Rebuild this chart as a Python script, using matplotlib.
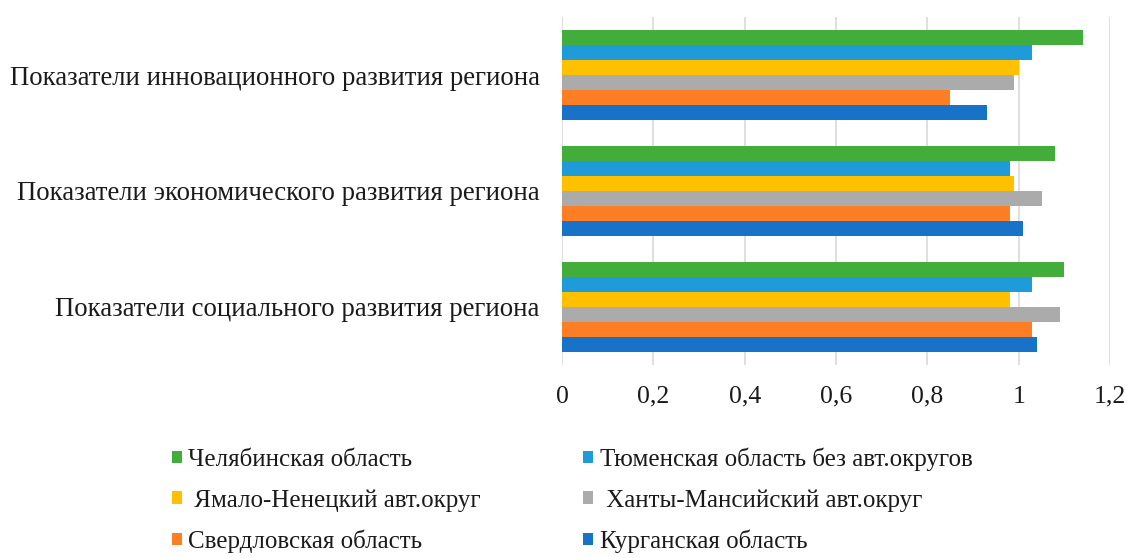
import numpy as np
import matplotlib
matplotlib.use("Agg")
import matplotlib.pyplot as plt
from matplotlib.patches import Patch

# =========================
# DATOS
# =========================
categorias = [
    "Показатели социального развития региона",
    "Показатели экономического развития региона",
    "Показатели инновационного развития региона",
]

# series, de abajo hacia arriba dentro de cada grupo
series = [
    "Курганская область",
    "Свердловская область",
    " Ханты-Мансийский авт.округ",
    " Ямало-Ненецкий авт.округ",
    "Тюменская область без авт.округов",
    "Челябинская область",
]

kurgan = [1.04, 1.01, 0.93]
sverdl = [1.03, 0.98, 0.85]
hmao = [1.09, 1.05, 0.99]
yanao = [0.98, 0.99, 1.00]
tyumen = [1.03, 0.98, 1.03]
chelyab = [1.10, 1.08, 1.14]

valores = [kurgan, sverdl, hmao, yanao, tyumen, chelyab]
colores = ["#1872C8", "#FE7E25", "#ABABAB", "#FFC000", "#1E9BD8", "#43AD3B"]

xticks = [0, 0.2, 0.4, 0.6, 0.8, 1.0, 1.2]
xtick_labels = ["0", "0,2", "0,4", "0,6", "0,8", "1", "1,2"]

# =========================
# GRAFICA
# =========================
plt.rcParams["font.family"] = ["Liberation Serif", "DejaVu Serif"]

fig = plt.figure(figsize=(11.27, 5.58), dpi=100)
ax = fig.add_axes([0.4987, 0.346, 0.4863, 0.6235])

y = np.arange(len(categorias))
h = 0.129

for j, (vals, col) in enumerate(zip(valores, colores)):
    ax.barh(y + (j - 2.5) * h, vals, height=h, color=col, zorder=3)

ax.set_xlim(0, 1.2)
ax.set_ylim(-0.5, 2.5)
ax.set_xticks(xticks)
ax.set_xticklabels(xtick_labels, fontsize=18.5, color="#1a1a1a")
ax.set_yticks(y)
ax.set_yticklabels(categorias, fontsize=19.3, color="#1a1a1a")
ax.tick_params(axis="x", length=0, pad=15)
ax.tick_params(axis="y", length=0, pad=16)

ax.grid(axis="x", color="#D9D9D9", linewidth=1.2, zorder=0)
ax.grid(axis="y", visible=False)
for s in ax.spines.values():
    s.set_visible(False)

# =========================
# LEYENDA
# =========================
orden = [5, 3, 1, 4, 2, 0]
handles = [Patch(facecolor=colores[i]) for i in orden]
labels = [series[i] for i in orden]
leg = fig.legend(handles, labels, ncol=2, loc="upper left",
                 bbox_to_anchor=(172 / 1127, 0.198), frameon=False,
                 fontsize=18, handlelength=0.4, handleheight=0.4,
                 handletextpad=0.25, labelspacing=0.72, columnspacing=4.1,
                 borderaxespad=0, borderpad=0)
for t in leg.get_texts():
    t.set_color("#1a1a1a")

fig.savefig("out.png", dpi=100)
